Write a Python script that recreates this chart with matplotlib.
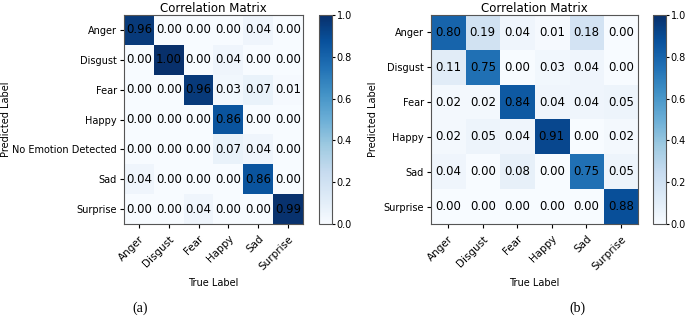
import matplotlib
matplotlib.use("Agg")
import matplotlib.pyplot as plt
import numpy as np

# panel (a)
true_a = ["Anger", "Disgust", "Fear", "Happy", "Sad", "Surprise"]
pred_a = ["Anger", "Disgust", "Fear", "Happy", "No Emotion Detected", "Sad", "Surprise"]
vals_a = [
    [0.96, 0.00, 0.00, 0.00, 0.04, 0.00],
    [0.00, 1.00, 0.00, 0.04, 0.00, 0.00],
    [0.00, 0.00, 0.96, 0.03, 0.07, 0.01],
    [0.00, 0.00, 0.00, 0.86, 0.00, 0.00],
    [0.00, 0.00, 0.00, 0.07, 0.04, 0.00],
    [0.04, 0.00, 0.00, 0.00, 0.86, 0.00],
    [0.00, 0.00, 0.04, 0.00, 0.00, 0.99],
]

# panel (b)
true_b = ["Anger", "Disgust", "Fear", "Happy", "Sad", "Surprise"]
pred_b = ["Anger", "Disgust", "Fear", "Happy", "Sad", "Surprise"]
vals_b = [
    [0.80, 0.19, 0.04, 0.01, 0.18, 0.00],
    [0.11, 0.75, 0.00, 0.03, 0.04, 0.00],
    [0.02, 0.02, 0.84, 0.04, 0.04, 0.05],
    [0.02, 0.05, 0.04, 0.91, 0.00, 0.02],
    [0.04, 0.00, 0.08, 0.00, 0.75, 0.05],
    [0.00, 0.00, 0.00, 0.00, 0.00, 0.88],
]

W, H = 685, 321


def box(x0, y0, x1, y1):
    return [x0 / W, 1 - y1 / H, (x1 - x0) / W, (y1 - y0) / H]


def draw_cm(fig, ax, cax, vals, xlabels, ylabels, ylabel_pad):
    m = np.array(vals)
    im = ax.imshow(m, cmap="Blues", vmin=0, vmax=1, aspect="auto", interpolation="nearest")
    for i in range(m.shape[0]):
        for j in range(m.shape[1]):
            ax.text(j, i, f"{m[i, j]:.2f}", ha="center", va="center", fontsize=8.5, color="black")
    ax.set_xticks(range(len(xlabels)))
    ax.set_xticklabels(xlabels, rotation=45, ha="right", rotation_mode="anchor", fontsize=7.5)
    ax.set_yticks(range(len(ylabels)))
    ax.set_yticklabels(ylabels, fontsize=7)
    ax.tick_params(length=3, pad=2)
    ax.tick_params(axis="x", pad=4)
    ax.set_title("Correlation Matrix", fontsize=8.5, pad=2)
    ax.set_xlabel("True Label", fontsize=7, labelpad=5)
    ax.set_ylabel("Predicted Label", fontsize=7, labelpad=ylabel_pad)
    cb = fig.colorbar(im, cax=cax)
    cb.set_ticks([0.0, 0.2, 0.4, 0.6, 0.8, 1.0])
    cb.ax.tick_params(labelsize=7, length=2.5, pad=1)
    for s in ax.spines.values():
        s.set_color("#555555")
    cb.outline.set_edgecolor("#555555")


fig = plt.figure(figsize=(6.85, 3.21), dpi=100)

ax_a = fig.add_axes(box(124, 15, 303, 224))
cax_a = fig.add_axes(box(319, 15, 332, 224))
draw_cm(fig, ax_a, cax_a, vals_a, true_a, pred_a, 1)

ax_b = fig.add_axes(box(431, 15, 638, 224))
cax_b = fig.add_axes(box(653, 15, 666, 224))
draw_cm(fig, ax_b, cax_b, vals_b, true_b, pred_b, 4)

fig.text(140 / W, 1 - 308 / H, "(a)", ha="center", va="center", fontsize=10, family="Liberation Serif")
fig.text(577 / W, 1 - 308 / H, "(b)", ha="center", va="center", fontsize=10, family="Liberation Serif")

fig.savefig("out.png", dpi=100)
